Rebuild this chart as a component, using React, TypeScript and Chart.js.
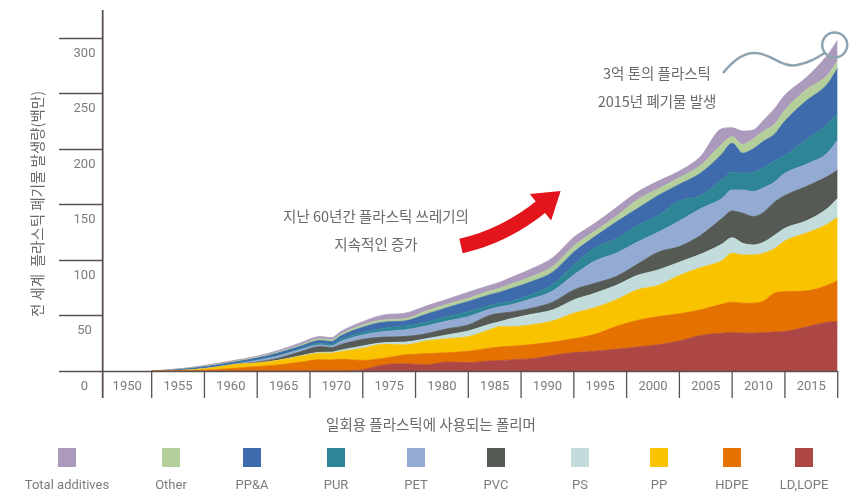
import { useEffect, useRef } from "react";
import { Chart, registerables } from "chart.js";

Chart.register(...registerables);

// ---- data (million tonnes) ----
const years = [1950, 1952, 1954, 1956, 1958, 1960, 1962, 1964, 1966, 1967, 1968, 1970, 1972, 1974, 1976, 1978, 1980, 1982, 1983, 1984, 1986, 1988, 1990, 1992, 1994, 1996, 1998, 2000, 2002, 2004, 2005, 2006, 2007, 2008, 2009, 2010, 2012, 2014, 2015];
const ldLope = [0, 0, 0, 0, 0, 0, 0, 0, 0, 0, 0, 1.2, 5.5, 6.5, 5.5, 8, 7.5, 9, 9.3, 10, 11, 14, 16.5, 17.7, 19.5, 21.5, 23.6, 27, 32, 34, 34.5, 34.2, 34, 34.5, 35, 35.5, 39.5, 43.8, 44.4];
const hdpe = [0, 0, 0.3, 1.2, 2.5, 4, 5.5, 7.8, 10.2, 9.9, 10.5, 8.3, 6, 8, 10, 8.5, 10.2, 11.5, 12.3, 12.2, 12.8, 12, 12.5, 15.3, 20.5, 24, 25.4, 24.5, 23, 26, 27.5, 26.8, 27, 28.5, 35, 35.9, 32.5, 33.2, 36.9];
const pp = [0, 0.2, 0.9, 2, 3.5, 3.2, 4, 5.2, 5.8, 6.1, 7, 10.9, 12.5, 9, 11.5, 12.5, 13.2, 16.5, 18.3, 17.7, 17.7, 19, 23, 24, 24, 27.5, 28, 34.5, 38, 39, 44, 43.5, 43.5, 43, 40, 45.6, 52, 55, 57.1];
const ps = [0, 0, 0, 0, 0, 0, 0.2, 0.5, 0.8, 1, 1.5, 2.1, 1.5, 2.5, 2, 3.5, 5.1, 5, 4.5, 7.1, 9.5, 10, 12, 13, 13, 13, 14, 12, 12, 15, 14, 10.5, 9, 10, 12, 11.5, 11, 14, 17.1];
const pvc = [0, 0, 0, 0, 0, 0.8, 1.8, 3.5, 5.2, 4, 5, 6, 5, 5, 4.5, 5.5, 5.4, 8, 7.5, 6, 5.5, 7, 9, 9, 8, 10, 16, 14, 17, 23, 24, 27, 25.5, 27, 30, 29.5, 31, 29, 25.5];
const pet = [0, 0, 0.1, 0.3, 0.5, 1.5, 2, 2, 1.5, 1.5, 3, 3.9, 5, 6, 7, 7, 7.5, 5.5, 6, 6.5, 8.5, 10, 13.5, 20, 21, 20, 18, 23, 24, 18, 19, 21, 22.5, 22, 18, 20, 20, 21, 27];
const pur = [0, 0, 0, 0, 0.1, 0.3, 0.5, 1, 1.5, 1.5, 2, 2.1, 3, 3.5, 3.5, 4, 4.5, 3.5, 3, 3, 4, 6, 9, 12, 13, 15, 15, 18, 12, 17, 16, 15, 17.5, 18, 19, 16, 22, 26, 24];
const ppa = [0, 0.7, 1.3, 1.7, 1.7, 1.8, 2.2, 2, 2.5, 2.5, 3, 4.8, 5.5, 4.5, 7, 8, 9.1, 9.5, 10.1, 11.5, 11.5, 11, 11.5, 10, 15, 15, 18, 15, 20, 23, 26, 18, 21, 24, 24, 31, 35, 36, 40.5];
const other = [0, 0.2, 0.4, 0.6, 0.6, 0.7, 0.8, 1, 1.5, 1.5, 1.5, 2.2, 2, 2, 3, 3, 3, 3.5, 3.5, 4, 4.5, 5, 5.5, 5, 5, 8, 6, 6, 7, 9, 6, 8, 9, 9, 9, 10, 10, 8, 7];
const additives = [0, 0.4, 0.6, 0.8, 0.9, 1, 1.5, 2, 2, 2, 2.5, 2.9, 4.5, 5, 4.5, 4.5, 5.5, 5, 5.5, 6, 7, 8, 8, 7, 8, 7, 7, 6, 8, 14, 8, 12, 8, 10, 14, 13.5, 11, 18, 18.5];

// stacking order: bottom -> top
const seriesLabels = ["LD,LOPE", "HDPE", "PP", "PS", "PVC", "PET", "PUR", "PP&A", "Other", "Total additives"];
const seriesValues = [ldLope, hdpe, pp, ps, pvc, pet, pur, ppa, other, additives];
const seriesColors = ["#ad4745", "#e57200", "#f9c300", "#c1dcdb", "#555a54", "#93aad2", "#2e8596", "#3e6bab", "#b4cf9b", "#ac9abd"];

const yTicks = [0, 50, 100, 150, 200, 250, 300];
const xTicks = [1950, 1955, 1960, 1965, 1970, 1975, 1980, 1985, 1990, 1995, 2000, 2005, 2010, 2015];
const xMin = 1945.36;
const xMax = 2015;
const yMax = 325;

const yTitle = "전 세계  플라스틱 폐기물 발생량(백만)";
const xTitle = "일회용 플라스틱에 사용되는 폴리머";
const noteLeft = ["지난 60년간 플라스틱 쓰레기의", "지속적인 증가"];
const noteTop = ["3억 톤의 플라스틱", "2015년 폐기물 발생"];

// legend order (left -> right) and layout centres
const legendOrder = [9, 8, 7, 6, 5, 4, 3, 2, 1, 0];
const legendCenters = [67, 171, 252, 336, 416, 496, 580, 659, 732, 804];

const AXIS = "#5c5151";
const TEXT = "#7c7c7c";
const LATIN = '"Roboto", "Liberation Sans", sans-serif';
const KOREAN = '"Noto Sans CJK KR", sans-serif';

const decorPlugin = {
  id: "decor",
  afterDatasetsDraw(chart: any) {
    const ctx = chart.ctx as CanvasRenderingContext2D;
    const { left, right, top } = chart.chartArea;
    const xs = chart.scales.x;
    const ys = chart.scales.y;
    const y0 = ys.getPixelForValue(0);
    const tickLen = 27;
    ctx.save();

    // y ticks (long marks to the left of the axis)
    ctx.strokeStyle = AXIS;
    ctx.lineWidth = 1.3;
    yTicks.forEach((v) => {
      const py = Math.round(ys.getPixelForValue(v)) + 0.5;
      ctx.beginPath();
      ctx.moveTo(59, py);
      ctx.lineTo(v === 0 ? right : left, py);
      ctx.stroke();
    });
    // x ticks
    xTicks.forEach((t) => {
      const px = xs.getPixelForValue(t);
      ctx.beginPath();
      ctx.moveTo(px, y0);
      ctx.lineTo(px, y0 + tickLen);
      ctx.stroke();
    });
    // y axis line
    ctx.lineWidth = 1.8;
    ctx.beginPath();
    ctx.moveTo(left, top);
    ctx.lineTo(left, y0 + tickLen);
    ctx.stroke();

    // tick labels
    ctx.fillStyle = TEXT;
    ctx.font = `13px ${LATIN}`;
    ctx.textAlign = "center";
    ctx.textBaseline = "middle";
    yTicks.forEach((v) => {
      ctx.fillText(String(v), 84.5, ys.getPixelForValue(v) + 15.5);
    });
    xTicks.forEach((t, i) => {
      const a = i === 0 ? left : xs.getPixelForValue(xTicks[i - 1]);
      const b = xs.getPixelForValue(t);
      ctx.fillText(String(t), (a + b) / 2, y0 + 16);
    });

    // axis titles
    ctx.fillStyle = "#6a6a6a";
    ctx.font = `14.5px ${KOREAN}`;
    ctx.save();
    ctx.translate(37, 204);
    ctx.rotate(-Math.PI / 2);
    ctx.fillText(yTitle, 0, 0);
    ctx.restore();
    ctx.fillText(xTitle, 431, 424);

    // legend
    ctx.font = `13px ${LATIN}`;
    legendOrder.forEach((si, i) => {
      const cx = legendCenters[i];
      ctx.fillStyle = seriesColors[si];
      ctx.fillRect(cx - 9, 448, 18, 19);
      ctx.fillStyle = TEXT;
      ctx.fillText(seriesLabels[si], cx, 486);
    });

    // left note
    ctx.fillStyle = "#6a6a6a";
    ctx.font = `14.5px ${KOREAN}`;
    ctx.fillText(noteLeft[0], 376, 216);
    ctx.fillText(noteLeft[1], 376, 244);

    // red arrow
    const p0 = { x: 461, y: 246 };
    const c = { x: 505, y: 236 };
    const p2 = { x: 542, y: 206 };
    ctx.strokeStyle = "#e3141b";
    ctx.fillStyle = "#e3141b";
    ctx.lineWidth = 15;
    ctx.lineCap = "butt";
    ctx.beginPath();
    ctx.moveTo(p0.x, p0.y);
    ctx.quadraticCurveTo(c.x, c.y, p2.x, p2.y);
    ctx.stroke();
    const dx = p2.x - c.x;
    const dy = p2.y - c.y;
    const len = Math.hypot(dx, dy);
    const ux = dx / len;
    const uy = dy / len;
    const bx = p2.x - ux * 2;
    const by = p2.y - uy * 2;
    ctx.beginPath();
    ctx.moveTo(bx + ux * 26, by + uy * 26);
    ctx.lineTo(bx - uy * 17, by + ux * 17);
    ctx.lineTo(bx + uy * 17, by - ux * 17);
    ctx.closePath();
    ctx.fill();

    // top note + wavy pointer + circle
    ctx.fillStyle = "#6a6a6a";
    ctx.fillText(noteTop[0], 657, 73);
    ctx.fillText(noteTop[1], 657, 101);
    const last = years.length - 1;
    const total2015 = seriesValues.reduce((s, arr) => s + arr[last], 0);
    const ccx = xs.getPixelForValue(years[last]) - 3;
    const ccy = ys.getPixelForValue(total2015) + 5;
    ctx.strokeStyle = "#8fa4b2";
    ctx.lineWidth = 2.5;
    ctx.beginPath();
    ctx.arc(ccx, ccy, 12.5, 0, Math.PI * 2);
    ctx.stroke();
    ctx.beginPath();
    ctx.moveTo(723, 73);
    ctx.bezierCurveTo(735, 58, 745, 52, 756, 53);
    ctx.bezierCurveTo(772, 54, 782, 68, 797, 65);
    ctx.bezierCurveTo(808, 63, 815, 59, ccx - 10, ccy + 8);
    ctx.stroke();

    ctx.restore();
  },
};

export default function App() {
  const ref = useRef<HTMLCanvasElement | null>(null);
  useEffect(() => {
    if (!ref.current) return;
    const chart = new Chart(ref.current, {
      type: "line",
      data: {
        datasets: seriesValues.map((vals, i) => ({
          label: seriesLabels[i],
          data: years.map((yr, j) => ({ x: yr, y: vals[j] })),
          backgroundColor: seriesColors[i],
          borderColor: seriesColors[i],
          borderWidth: 0.8,
          pointRadius: 0,
          fill: i === 0 ? "origin" : "-1",
          cubicInterpolationMode: "monotone",
        })),
      },
      options: {
        responsive: false,
        devicePixelRatio: 1,
        animation: false,
        layout: { padding: { left: 102.7, right: 23.3, top: 10, bottom: 127 } },
        scales: {
          x: { type: "linear", min: xMin, max: xMax, display: false },
          y: { stacked: true, min: 0, max: yMax, display: false },
        },
        plugins: { legend: { display: false }, tooltip: { enabled: false } },
      },
      plugins: [decorPlugin],
    });
    return () => chart.destroy();
  }, []);
  return (
    <div style={{ position: "fixed", left: 0, top: 0, width: 861, height: 498, background: "#fff" }}>
      <canvas ref={ref} width={861} height={498} />
    </div>
  );
}
